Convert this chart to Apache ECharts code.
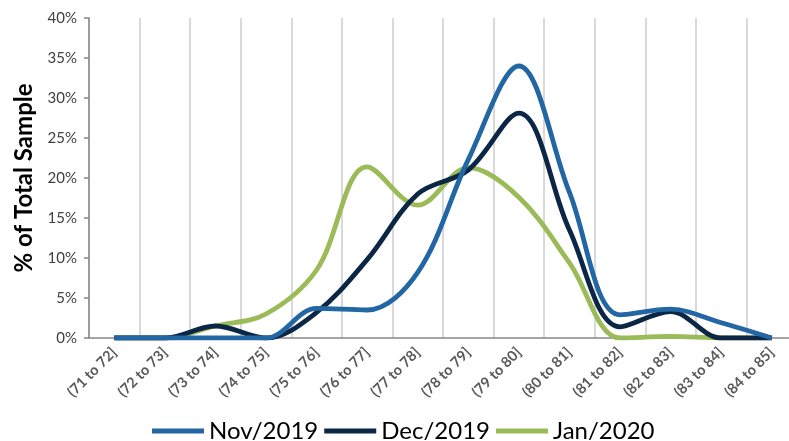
<!DOCTYPE html>
<html>
<head>
<meta charset="utf-8">
<script src="https://cdn.jsdelivr.net/npm/echarts@6/dist/echarts.min.js"></script>
<style>html,body{margin:0;padding:0;background:#fff;overflow:hidden;width:789px;height:441px;}#c{width:797px;height:441px;}</style>
</head>
<body>
<div id="c"></div>
<script>
var categories = ['(71 to 72]','(72 to 73]','(73 to 74]','(74 to 75]','(75 to 76]','(76 to 77]','(77 to 78]','(78 to 79]','(79 to 80]','(80 to 81]','(81 to 82]','(82 to 83]','(83 to 84]','(84 to 85]'];
var nov2019 = [0, 0, 0, 0, 3.7, 3.5, 8.2, 22.3, 34, 18.2, 2.9, 3.6, 1.9, 0];
var dec2019 = [0, 0, 1.5, 0, 3.2, 9.8, 18, 21, 28.1, 13.5, 1.4, 3.3, 0, 0];
var jan2020 = [0, 0, 1.5, 3, 8.5, 21.4, 16.6, 21.3, 17.6, 9.4, 0, 0.2, 0, 0];
var seriesNames = ['Nov/2019', 'Dec/2019', 'Jan/2020'];
var yTicks = {min: 0, max: 40, interval: 5};

var colors = ['#2266a3', '#0c2746', '#9bbb59'];
var font = 'Lato, "Open Sans", sans-serif';
var chart = echarts.init(document.getElementById('c'));
function mk(name, data, i) {
  return {
    name: name, type: 'line', data: data, smooth: 0.35,
    symbol: 'none', z: 10 - i,
    lineStyle: {width: 4.8, color: colors[i]},
    itemStyle: {color: colors[i]}
  };
}
chart.setOption({
  animation: false,
  grid: {left: 89, right: 0, top: 18, bottom: 103},
  legend: {
    top: 414, left: 147,
    icon: 'rect', itemWidth: 52, itemHeight: 5, itemGap: 6,
    textStyle: {fontSize: 24, color: '#000', fontFamily: font},
    data: seriesNames
  },
  xAxis: {
    type: 'category', data: categories, boundaryGap: true,
    axisLine: {lineStyle: {color: '#868686', width: 1.5}},
    axisTick: {alignWithLabel: true, length: 5, lineStyle: {color: '#868686', width: 1.5}},
    splitLine: {show: true, lineStyle: {color: '#d9d9d9', width: 2}},
    axisLabel: {rotate: 45, interval: 0, fontSize: 14.5, fontWeight: 'bold', color: '#595959', fontFamily: font, margin: 12}
  },
  yAxis: {
    type: 'value', min: yTicks.min, max: yTicks.max, interval: yTicks.interval,
    name: '% of Total Sample', nameLocation: 'middle', nameGap: 51,
    nameTextStyle: {fontSize: 24, fontWeight: 'bold', color: '#000', fontFamily: font},
    axisLine: {show: true, lineStyle: {color: '#868686', width: 1.5}},
    axisTick: {show: true, length: 5, lineStyle: {color: '#868686', width: 1.5}},
    splitLine: {show: false},
    axisLabel: {formatter: '{value}%', fontSize: 15, color: '#404040', fontFamily: font, margin: 12}
  },
  series: [mk(seriesNames[0], nov2019, 0), mk(seriesNames[1], dec2019, 1), mk(seriesNames[2], jan2020, 2)]
});
</script>
</body>
</html>
